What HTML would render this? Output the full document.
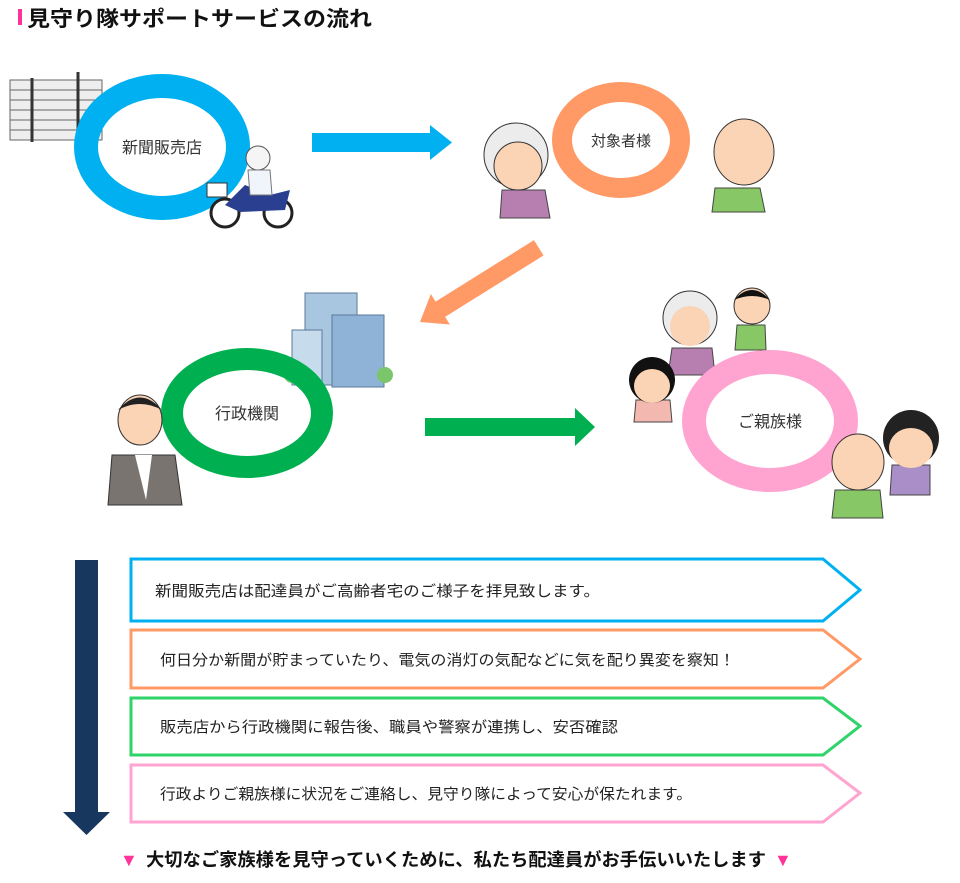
<!DOCTYPE html>
<html><head><meta charset="utf-8"><style>
html,body{margin:0;padding:0;background:#fff;}
svg{display:block;}
text{font-family:"Liberation Sans","Noto Sans CJK JP",sans-serif;}
</style></head><body>
<svg width="960" height="883" viewBox="0 0 960 883" xmlns="http://www.w3.org/2000/svg">
<!-- title -->
<rect x="18" y="9" width="4" height="16" fill="#ff3399"/>
<text x="27" y="26" font-size="21" font-weight="bold" fill="#111" textLength="345" lengthAdjust="spacingAndGlyphs">見守り隊サポートサービスの流れ</text>

<!-- newspapers -->
<g fill="#eee" stroke="#666" stroke-width="1">
<rect x="10" y="80" width="92" height="60"/>
<line x1="10" y1="90" x2="102" y2="90"/><line x1="10" y1="100" x2="102" y2="100"/><line x1="10" y1="110" x2="102" y2="110"/><line x1="10" y1="120" x2="102" y2="120"/><line x1="10" y1="130" x2="102" y2="130"/>
</g>
<line x1="32" y1="78" x2="32" y2="142" stroke="#333" stroke-width="3"/>
<line x1="78" y1="72" x2="78" y2="138" stroke="#333" stroke-width="3"/>

<!-- ring 1 blue -->
<ellipse cx="162" cy="147" rx="76" ry="61" fill="none" stroke="#00b0f0" stroke-width="24"/>
<text x="162" y="153" font-size="16" text-anchor="middle" fill="#333">新聞販売店</text>
<!-- bike -->
<circle cx="225" cy="213" r="14" fill="#fff" stroke="#222" stroke-width="3"/>
<circle cx="278" cy="213" r="14" fill="#fff" stroke="#222" stroke-width="3"/>
<path d="M225 205 L245 185 L270 195 L290 190 L285 210 L240 212 Z" fill="#2a3f8f"/>
<rect x="207" y="183" width="20" height="14" fill="#fff" stroke="#333"/>
<circle cx="258" cy="158" r="12" fill="#f5f5f5" stroke="#555"/>
<path d="M248 170 L270 170 L272 195 L250 195 Z" fill="#f0f4fb" stroke="#777"/>

<!-- blue arrow -->
<polygon points="312,133 430,133 430,125 452,142.5 430,160 430,152 312,152" fill="#00b0f0"/>

<!-- ring 2 orange -->
<ellipse cx="621" cy="140" rx="59" ry="48" fill="none" stroke="#ff9966" stroke-width="20"/>
<text x="621" y="146" font-size="15" text-anchor="middle" fill="#333">対象者様</text>
<!-- old woman -->
<path d="M502 190 L545 190 L550 218 L500 218 Z" fill="#b77fb0" stroke="#444"/>
<circle cx="516" cy="155" r="32" fill="#ececec" stroke="#333"/>
<ellipse cx="518" cy="166" rx="24" ry="24" fill="#fbd3b5" stroke="#333"/>
<!-- old man -->
<path d="M715 188 L760 188 L765 212 L712 212 Z" fill="#88c765" stroke="#444"/>
<ellipse cx="744" cy="152" rx="30" ry="33" fill="#fbd3b5" stroke="#333"/>

<!-- orange diagonal arrow -->
<g transform="translate(420,322) rotate(-32)">
<polygon points="0,0 24,-18 24,-9 140,-9 140,9 24,9 24,18" fill="#ff9966"/>
</g>

<!-- building -->
<rect x="305" y="293" width="52" height="92" fill="#a9c6e0" stroke="#5a7a9a"/>
<rect x="332" y="315" width="52" height="72" fill="#8fb3d6" stroke="#5a7a9a"/>
<rect x="292" y="330" width="30" height="55" fill="#c6dcec" stroke="#5a7a9a"/>
<circle cx="292" cy="375" r="8" fill="#7bc66a"/><circle cx="385" cy="375" r="8" fill="#7bc66a"/>

<!-- ring 3 green -->
<ellipse cx="247" cy="413" rx="75" ry="54" fill="none" stroke="#00b050" stroke-width="22"/>
<text x="247" y="419" font-size="16" text-anchor="middle" fill="#333">行政機関</text>
<!-- businessman -->
<path d="M112 455 L175 455 L182 505 L108 505 Z" fill="#7a7470" stroke="#333"/>
<path d="M135 455 L152 455 L146 500 Z" fill="#fff"/>
<ellipse cx="140" cy="420" rx="22" ry="25" fill="#fbd3b5" stroke="#333"/>
<path d="M118 410 Q140 385 162 410 Q140 398 118 410Z" fill="#222"/>

<!-- green arrow -->
<polygon points="425,418 575,418 575,408 595,427 575,446 575,436 425,436" fill="#00b050"/>

<!-- family -->
<path d="M672 348 L712 348 L715 375 L668 375 Z" fill="#b77fb0" stroke="#444"/>
<circle cx="690" cy="318" r="27" fill="#ececec" stroke="#333"/>
<ellipse cx="690" cy="326" rx="20" ry="20" fill="#fbd3b5"/>
<path d="M737 325 L765 325 L766 350 L735 350 Z" fill="#88c765" stroke="#444"/>
<circle cx="752" cy="306" r="18" fill="#fbd3b5" stroke="#333"/>
<path d="M734 300 Q752 280 770 300 Q752 292 734 300Z" fill="#111"/>
<path d="M636 400 L670 400 L672 422 L634 422 Z" fill="#f3b9b0" stroke="#444"/>
<circle cx="652" cy="380" r="23" fill="#111"/>
<ellipse cx="652" cy="386" rx="18" ry="17" fill="#fbd3b5"/>

<!-- ring 4 pink -->
<ellipse cx="770" cy="421" rx="76" ry="59" fill="none" stroke="#ffa3d1" stroke-width="24"/>
<text x="770" y="427" font-size="16" text-anchor="middle" fill="#333">ご親族様</text>
<path d="M892 465 L930 465 L930 495 L890 495 Z" fill="#a98ec7" stroke="#444"/>
<circle cx="911" cy="438" r="28" fill="#222"/>
<ellipse cx="911" cy="448" rx="22" ry="20" fill="#fbd3b5"/>
<path d="M835 490 L880 490 L883 518 L832 518 Z" fill="#88c765" stroke="#444"/>
<ellipse cx="858" cy="462" rx="26" ry="28" fill="#fbd3b5" stroke="#333"/>

<!-- navy down arrow -->
<polygon points="75,560 98,560 98,812 110,812 86.5,835 63,812 75,812" fill="#17375e"/>

<!-- chevron boxes -->
<polygon points="131,559 823,559 860,590 823,621 131,621" fill="#fff" stroke="#00b0f0" stroke-width="3"/>
<polygon points="131,630 823,630 860,659 823,688 131,688" fill="#fff" stroke="#ff9966" stroke-width="3"/>
<polygon points="131,698 823,698 860,726 823,755 131,755" fill="#fff" stroke="#2ed46a" stroke-width="3"/>
<polygon points="131,765 823,765 860,793 823,822 131,822" fill="#fff" stroke="#ffa3d1" stroke-width="3"/>
<text x="155" y="596" font-size="15" fill="#222" textLength="445" lengthAdjust="spacingAndGlyphs">新聞販売店は配達員がご高齢者宅のご様子を拝見致します。</text>
<text x="160" y="665" font-size="15" fill="#222" textLength="575" lengthAdjust="spacingAndGlyphs">何日分か新聞が貯まっていたり、電気の消灯の気配などに気を配り異変を察知！</text>
<text x="160" y="732" font-size="15" fill="#222" textLength="458" lengthAdjust="spacingAndGlyphs">販売店から行政機関に報告後、職員や警察が連携し、安否確認</text>
<text x="160" y="799" font-size="15" fill="#222" textLength="532" lengthAdjust="spacingAndGlyphs">行政よりご親族様に状況をご連絡し、見守り隊によって安心が保たれます。</text>

<!-- bottom line -->
<text x="120" y="866" font-size="18" fill="#ff3399">▼</text>
<text x="146" y="866" font-size="18" font-weight="bold" fill="#111" textLength="620" lengthAdjust="spacingAndGlyphs">大切なご家族様を見守っていくために、私たち配達員がお手伝いいたします</text>
<text x="774" y="866" font-size="18" fill="#ff3399">▼</text>
</svg>
</body></html>
